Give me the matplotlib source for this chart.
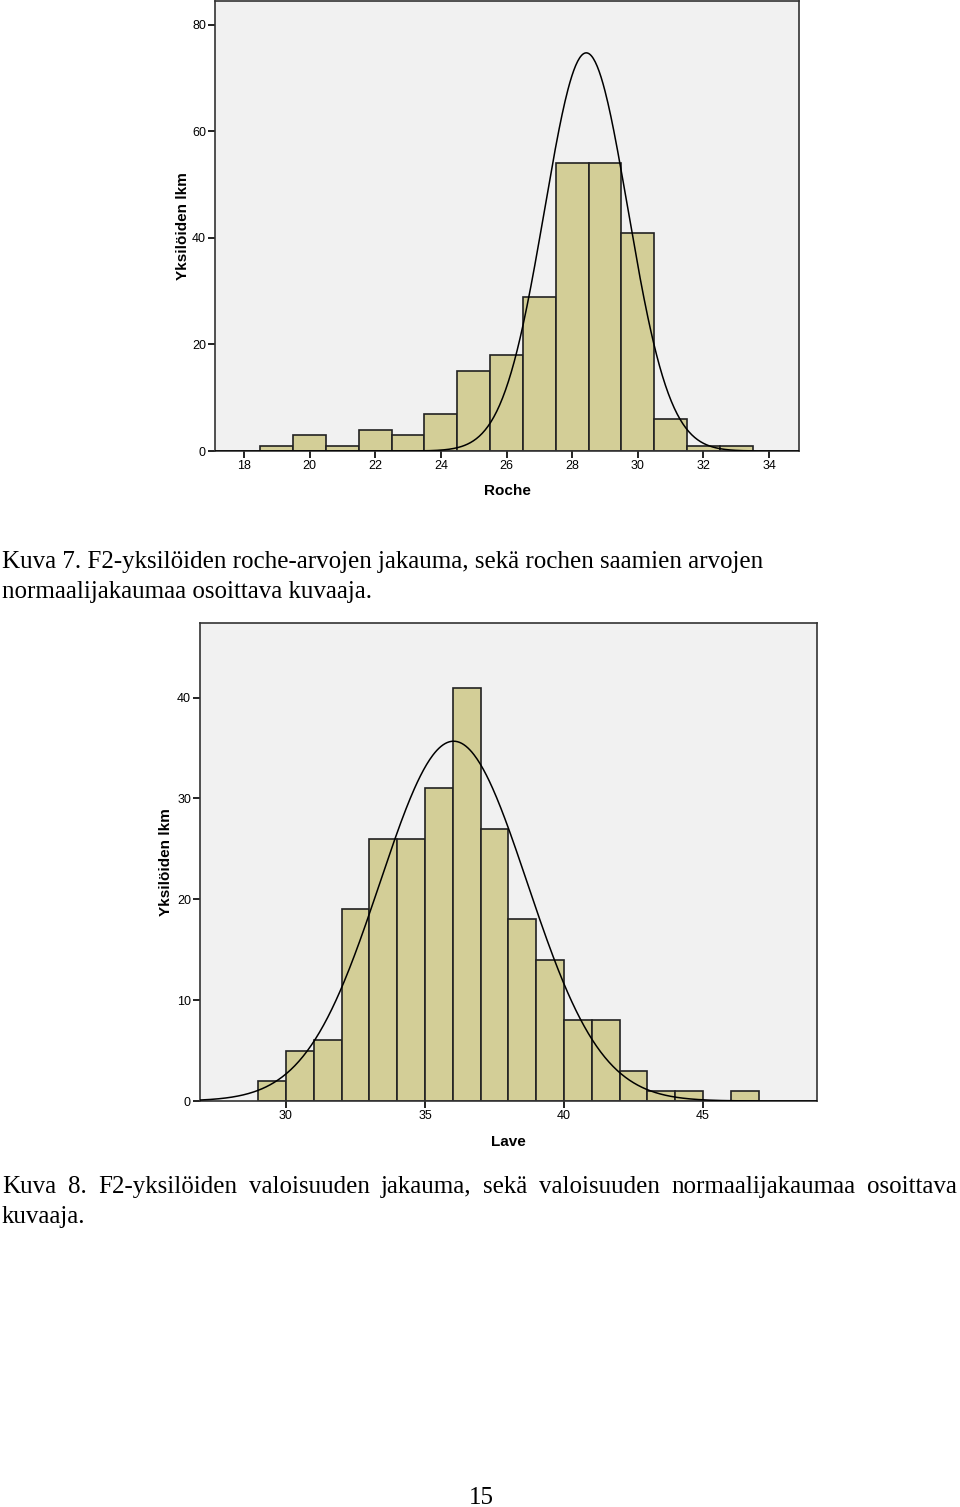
import numpy as np
import matplotlib
matplotlib.use("Agg")
import matplotlib.pyplot as plt

# --- data ---
roche_edges = [18.5 + i for i in range(16)]
roche_counts = [1, 3, 1, 4, 3, 7, 15, 18, 29, 54, 54, 41, 6, 1, 1]
roche_ticks = [18, 20, 22, 24, 26, 28, 30, 32, 34]
roche_yticks = [0, 20, 40, 60, 80]
roche_mean = 28.43
roche_sd = 1.27
roche_n = 238

lave_edges = [29 + i for i in range(19)]
lave_counts = [2, 5, 6, 19, 26, 26, 31, 41, 27, 18, 14, 8, 8, 3, 1, 1, 0, 1]
lave_ticks = [30, 35, 40, 45]
lave_yticks = [0, 10, 20, 30, 40]
lave_mean = 36.03
lave_sd = 2.65
lave_n = 237

caption7 = ["Kuva 7. F2-yksilöiden roche-arvojen jakauma, sekä rochen saamien arvojen",
            "normaalijakaumaa osoittava kuvaaja."]
caption8 = ["Kuva 8. F2-yksilöiden valoisuuden jakauma, sekä valoisuuden normaalijakaumaa osoittava",
            "kuvaaja."]
page_no = "15"

W, H = 960, 1507
BAR = '#D3CE97'
EDGE = '#222222'
BG = '#F1F1F1'
SANS = ['Liberation Sans', 'DejaVu Sans']
SERIF = ['Liberation Serif', 'DejaVu Serif']
CAP = 18

fig = plt.figure(figsize=(W / 100, H / 100), dpi=100)


def px_axes(left, top, right, bottom):
    return fig.add_axes([left / W, 1 - bottom / H, (right - left) / W, (bottom - top) / H])


def draw_hist(ax, edges, counts, mean, sd, n, xlim, ylim, xticks, yticks, xlabel):
    ax.set_facecolor(BG)
    ax.bar(edges[:-1], counts, width=1.0, align='edge', color=BAR,
           edgecolor=EDGE, linewidth=1.2, zorder=2)
    xs = np.linspace(xlim[0], xlim[1], 600)
    ys = n * 1.0 / (sd * np.sqrt(2 * np.pi)) * np.exp(-0.5 * ((xs - mean) / sd) ** 2)
    ax.plot(xs, ys, color='black', linewidth=1.1, zorder=3)
    ax.set_xlim(*xlim)
    ax.set_ylim(*ylim)
    ax.set_xticks(xticks)
    ax.set_yticks(yticks)
    ax.tick_params(direction='out', length=5, width=1.4, labelsize=9, pad=1.5,
                   color='#222222')
    for lab in ax.get_xticklabels() + ax.get_yticklabels():
        lab.set_family(SANS)
    for s in ax.spines.values():
        s.set_color('#333333')
        s.set_linewidth(1.2)
    ax.set_xlabel(xlabel, family=SANS, fontsize=11, fontweight='bold')
    ax.set_ylabel('Yksilöiden lkm', family=SANS, fontsize=11, fontweight='bold')


ax1 = px_axes(215, 1, 799, 451)
draw_hist(ax1, roche_edges, roche_counts, roche_mean, roche_sd, roche_n,
          (17.12, 34.91), (0, 84.5), roche_ticks, roche_yticks, 'Roche')
ax1.xaxis.set_label_coords(0.5, -0.074)
ax1.yaxis.set_label_coords(-0.042, 0.5)

ax2 = px_axes(200, 623, 817, 1101)
draw_hist(ax2, lave_edges, lave_counts, lave_mean, lave_sd, lave_n,
          (26.91, 49.1), (0, 47.4), lave_ticks, lave_yticks, 'Lave')
ax2.xaxis.set_label_coords(0.5, -0.072)
ax2.yaxis.set_label_coords(-0.043, 0.5)


def fy(y):
    return 1 - y / H


# captions
fig.text(2 / W, fy(568), caption7[0], family=SERIF, fontsize=CAP, va='baseline')
fig.text(2 / W, fy(598), caption7[1], family=SERIF, fontsize=CAP, va='baseline')

# justified first line of caption 8
words = caption8[0].split(' ')
items = [fig.text(0, fy(1193), w, family=SERIF, fontsize=CAP, va='baseline') for w in words]
fig.canvas.draw()
r = fig.canvas.get_renderer()
widths = [t.get_window_extent(r).width for t in items]
x0, x1 = 2, 957
gap = (x1 - x0 - sum(widths)) / (len(words) - 1)
x = x0
for t, w in zip(items, widths):
    t.set_x(x / W)
    x += w + gap
fig.text(2 / W, fy(1223), caption8[1], family=SERIF, fontsize=CAP, va='baseline')

fig.text(481 / W, fy(1504), page_no, family=SERIF, fontsize=CAP, va='baseline', ha='center')

fig.savefig('out.png', dpi=100)
